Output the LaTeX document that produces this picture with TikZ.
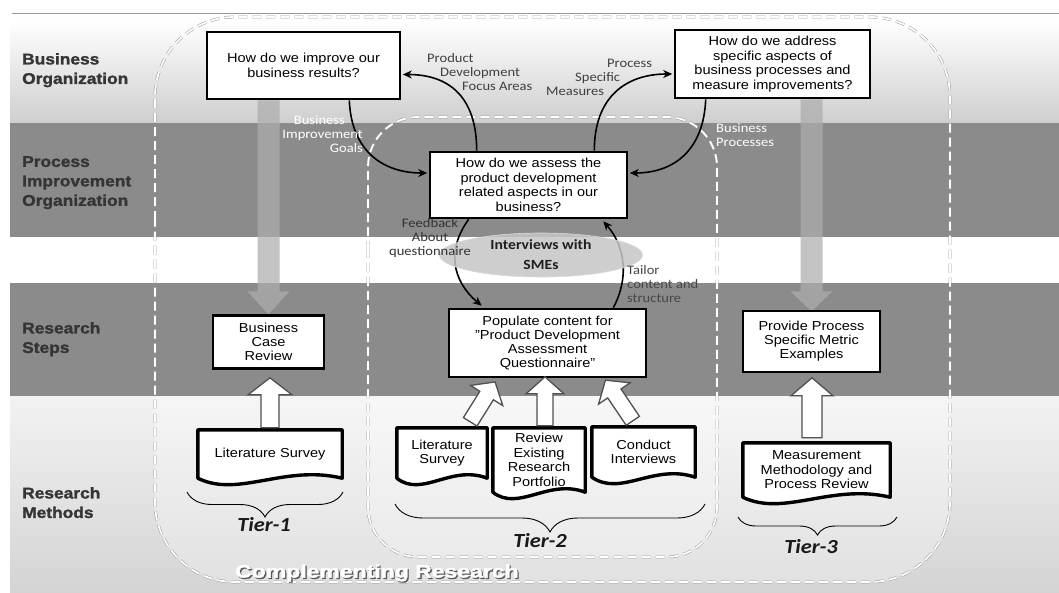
\documentclass[tikz,border=0pt]{standalone}
\usepackage{fontspec}
\usepackage{graphicx}
\setmainfont[FakeStretch=1.12]{Liberation Sans}
\newfontfamily\calfont[FakeStretch=1.12]{Carlito}
\newfontfamily\heavyfont[FakeStretch=1.12, FakeBold=1.6]{Liberation Sans}
\usetikzlibrary{calc,arrows.meta,shapes.geometric,decorations.pathreplacing}
\pgfdeclarelayer{back}
\pgfdeclarelayer{mid}
\pgfsetlayers{back,mid,main}

\definecolor{band}{HTML}{8B8B8B}
\definecolor{headtext}{HTML}{353535}
\definecolor{notetext}{HTML}{404040}
\definecolor{smefill}{HTML}{C6C6C6}
\definecolor{arrowgray}{HTML}{ADADAD}
\definecolor{blockedge}{HTML}{505050}

\tikzset{
  qbox/.style={draw=black, line width=2.6pt, fill=white, align=center, inner sep=1pt,
    text=black, font=\fontsize{13pt}{14.5pt}\selectfont},
  sbox/.style={qbox, font=\fontsize{13pt}{14pt}\selectfont},
  doc/.style={align=center, inner sep=0pt, text=black, font=\fontsize{13pt}{14.5pt}\selectfont},
  docline/.style={draw=black, line width=3.4pt, fill=white, line join=round},
  flow/.style={line width=1.6pt, -{Stealth[length=9pt,width=8pt]}},
  note/.style={font=\calfont\fontsize{13pt}{14pt}\selectfont, text=notetext, inner sep=0pt},
  whitenote/.style={note, text=white},
  bandlabel/.style={font=\heavyfont\bfseries\fontsize{15.5pt}{19.5pt}\selectfont,
    text=headtext, align=left, anchor=north west, inner sep=0pt},
  blockarr/.style={draw=blockedge, line width=1.3pt, fill=white, line join=miter},
  grayarr/.style={fill=arrowgray, fill opacity=0.73},
  regionshadow/.style={draw=black!40, line width=2.8pt, dash pattern=on 9pt off 5pt},
  regionline/.style={draw=white, line width=1.8pt, dash pattern=on 9pt off 5pt},
  tier/.style={font=\calfont\bfseries\itshape\fontsize{20pt}{20pt}\selectfont, text=black!90},
  tierbrace/.style={draw=black, line width=0.9pt, decorate,
    decoration={brace, mirror, amplitude=#1}},
  titletext/.style={font=\heavyfont\bfseries\fontsize{18pt}{18pt}\selectfont, anchor=west,
    inner sep=0pt},
}

% document symbol: straight top and sides, wavy bottom edge
\newcommand\docoutline[1]{%
  \draw[docline] (#1.south west) -- (#1.north west) -- (#1.north east) -- (#1.south east)
    .. controls ($(#1.south east)!0.4!(#1.south west)+(0,-14)$)
       and ($(#1.south east)!0.72!(#1.south west)+(0,20)$) .. (#1.south west) -- cycle;}

% hollow block arrow: base point, angle, length, shaft half width, head half width, head length
\newcommand\blockarrow[6]{%
  \begin{scope}[shift={(#1)}, rotate=#2]
    \draw[blockarr] (-#4,0) -- (-#4,{-#3+#6}) -- (-#5,{-#3+#6}) -- (0,-#3)
      -- (#5,{-#3+#6}) -- (#4,{-#3+#6}) -- (#4,0) -- cycle;
  \end{scope}}

\begin{document}
\begin{tikzpicture}[x=1pt,y=-1pt]
\useasboundingbox (0,0) rectangle (1059,592);

% ---------- bands and research regions ----------
\begin{pgfonlayer}{back}
  \fill[white] (0,0) rectangle (1059,592);
  \shade[top color=white, bottom color=black!19] (10,20) rectangle (1059,123);
  \fill[band] (10,123) rectangle (1059,237);
  \fill[band] (10,283) rectangle (1059,396);
  \shade[top color=black!5, bottom color=black!17] (10,396) rectangle (1059,592);
  \draw[black!40, line width=0.8pt] (12,13) -- (1059,13);
  \begin{scope}
    \clip (10,396) rectangle (1059,592);
    \fill[white, fill opacity=0.3, rounded corners=80pt] (155,17) rectangle (950,582);
    \fill[white, fill opacity=0.25, rounded corners=50pt] (368,117) rectangle (717,557);
  \end{scope}
  \draw[regionshadow, rounded corners=80pt] (155,300) -- (155,17) -- (950,17) -- (950,582) -- (155,582) -- cycle;
  \draw[regionshadow, rounded corners=50pt] (368,300) -- (368,117) -- (717,117) -- (717,557) -- (368,557) -- cycle;
  \draw[regionline, rounded corners=80pt] (155,300) -- (155,17) -- (950,17) -- (950,582) -- (155,582) -- cycle;
  \draw[regionline, rounded corners=50pt] (368,300) -- (368,117) -- (717,117) -- (717,557) -- (368,557) -- cycle;
\end{pgfonlayer}

% ---------- band labels ----------
\node[bandlabel] (lbo) at (22,53) {Business\\Organization};
\node[bandlabel] (lpio) at (22,156) {Process\\Improvement\\Organization};
\node[bandlabel] (lrs) at (22,322) {Research\\Steps};
\node[bandlabel] (lrm) at (22,487) {Research\\Methods};

% ---------- question and step boxes ----------
\node[qbox, minimum width=193pt, minimum height=67pt] (q1) at (303.5,65.5)
  {How do we improve our\\business results?};
\node[qbox, minimum width=195pt, minimum height=68pt] (q2) at (772.5,64)
  {How do we address\\specific aspects of\\business processes and\\measure improvements?};
\node[qbox, minimum width=197pt, minimum height=66pt] (q3) at (528.5,185)
  {How do we assess the\\product development\\related aspects in our\\business?};
\node[sbox, minimum width=197pt, minimum height=68pt] (pop) at (547.5,343)
  {Populate content for\\\char34 Product Development\\Assessment\\Questionnaire\char34};
\node[sbox, minimum width=111pt, minimum height=53pt] (bcr) at (268.5,342)
  {Business\\Case\\Review};
\node[sbox, minimum width=137pt, minimum height=61pt] (ppe) at (811.5,341.5)
  {Provide Process\\Specific Metric\\Examples};

% ---------- research method documents ----------
\node[doc, minimum width=144pt, minimum height=48pt] (lit1) at (270,454) {Literature Survey};
\node[doc, minimum width=90pt, minimum height=50pt] (lit2) at (442,453) {Literature\\Survey};
\node[doc, minimum width=92pt, minimum height=64pt] (rev) at (539,460)
  {Review\\Existing\\Research\\Portfolio};
\node[doc, minimum width=103pt, minimum height=50pt] (ci) at (643.5,452) {Conduct\\Interviews};
\node[doc, minimum width=147pt, minimum height=54pt] (mm) at (816.5,470)
  {Measurement\\Methodology and\\Process Review};

\begin{pgfonlayer}{mid}
  % wide translucent arrows from the top questions to the research steps
  \begin{scope}[shift={(bcr.north |- q1.south)}]
    \fill[grayarr] (-11,0) -- (-11,191) -- (-21,191) -- (0,214) -- (21,191) -- (11,191) -- (11,0) -- cycle;
  \end{scope}
  \begin{scope}[shift={(ppe.north |- q2.south)}]
    \fill[grayarr] (-11,0) -- (-11,192) -- (-21,192) -- (0,212) -- (21,192) -- (11,192) -- (11,0) -- cycle;
  \end{scope}
  \docoutline{lit1}
  \docoutline{lit2}
  \docoutline{rev}
  \docoutline{ci}
  \docoutline{mm}
\end{pgfonlayer}

% ---------- hollow arrows from methods to steps ----------
\coordinate (a1) at ($(lit1.north)+(0,-2)$);
\coordinate (a2) at ($(lit2.north east)+(-17,-6)$);
\coordinate (a3) at ($(rev.north)+(6,-2)$);
\coordinate (a4) at ($(ci.north west)+(41,-6)$);
\coordinate (a5) at ($(mm.north)+(-4.5,-5)$);
\blockarrow{a1}{0}{50}{9}{22}{17}
\blockarrow{a2}{-32}{47}{8}{19}{16}
\blockarrow{a3}{0}{49}{8}{19}{17}
\blockarrow{a4}{34}{49}{8}{19}{16}
\blockarrow{a5}{0}{60}{10}{21}{18}

% ---------- flows between the questions ----------
\draw[flow] ($(q3.north west)+(48,0)$) .. controls +(0,-55) and +(45,0) .. ($(q1.east)+(1.5,9)$);
\draw[flow] ($(q3.north east)+(-34,0)$) .. controls +(0,-55) and +(-45,0) .. ($(q2.west)+(-1.5,10)$);
\draw[flow] ($(q1.south east)+(-52,0)$) .. controls +(2,50) and +(-45,0) .. ($(q3.west)+(-1.5,-12)$);
\draw[flow] ($(q2.south west)+(32,0)$) .. controls +(-2,50) and +(45,0) .. ($(q3.east)+(1.5,-12)$);
\draw[flow] ($(q3.south west)+(40,0)$) .. controls +(-22,30) and +(-30,-25) .. ($(pop.north west)+(34,-2)$);
\draw[flow] ($(pop.north east)+(-34,0)$) .. controls +(16,-30) and +(22,25) .. ($(q3.south east)+(-25,2)$);

% ---------- interviews with subject matter experts ----------
\node[ellipse, fill=smefill, fill opacity=0.85, draw=black!15, line width=0.6pt,
  minimum width=203pt, minimum height=44pt] (sme) at (541,255) {};
\node[font=\calfont\bfseries\fontsize{14pt}{20pt}\selectfont, text=black!88, align=center,
  inner sep=0pt] (smetext) at (sme.center) {Interviews with\\SMEs};

% ---------- flow labels ----------
\node[note, align=left, anchor=north west] (lpd) at (427,53)
  {Product\\\hspace*{13pt}Development\\\hspace*{35pt}Focus Areas};
\node[note, align=left, anchor=north west] (lps) at (546,59)
  {\hspace*{61pt}Process\\\hspace*{29pt}Specific\\Measures};
\node[whitenote, align=right, anchor=north east] (lbig) at (363,115)
  {Business\hspace*{18pt}\\Improvement\hspace*{3pt}\\Goals};
\node[whitenote, align=left, anchor=north west] (lbp) at (716,123) {Business\\Processes};
\node[note, align=center, anchor=north, text=black!80] (lfb) at (430,218)
  {Feedback\\About\\questionnaire};
\node[note, align=left, anchor=north west, text=black!72] (ltc) at (627,265)
  {Tailor\\content and\\structure};

% ---------- tiers ----------
\draw[tierbrace=25pt] (187,492) -- (343,492);
\draw[tierbrace=28pt] (395,504) -- (705,504);
\draw[tierbrace=18pt] (738,517) -- (897,517);
\node[tier] (t1) at (264,525) {Tier-1};
\node[tier] (t2) at (540,541) {Tier-2};
\node[tier] (t3) at (811,547) {Tier-3};

% ---------- region title: white lettering with a dark edge ----------
\node[titletext, text=black!65] (crshadow) at (236.3,574.3) {\scalebox{1.14}[1]{Complementing Research}};
\node[titletext, text=white] (crtitle) at (235,573) {\scalebox{1.14}[1]{Complementing Research}};
\end{tikzpicture}
\end{document}
